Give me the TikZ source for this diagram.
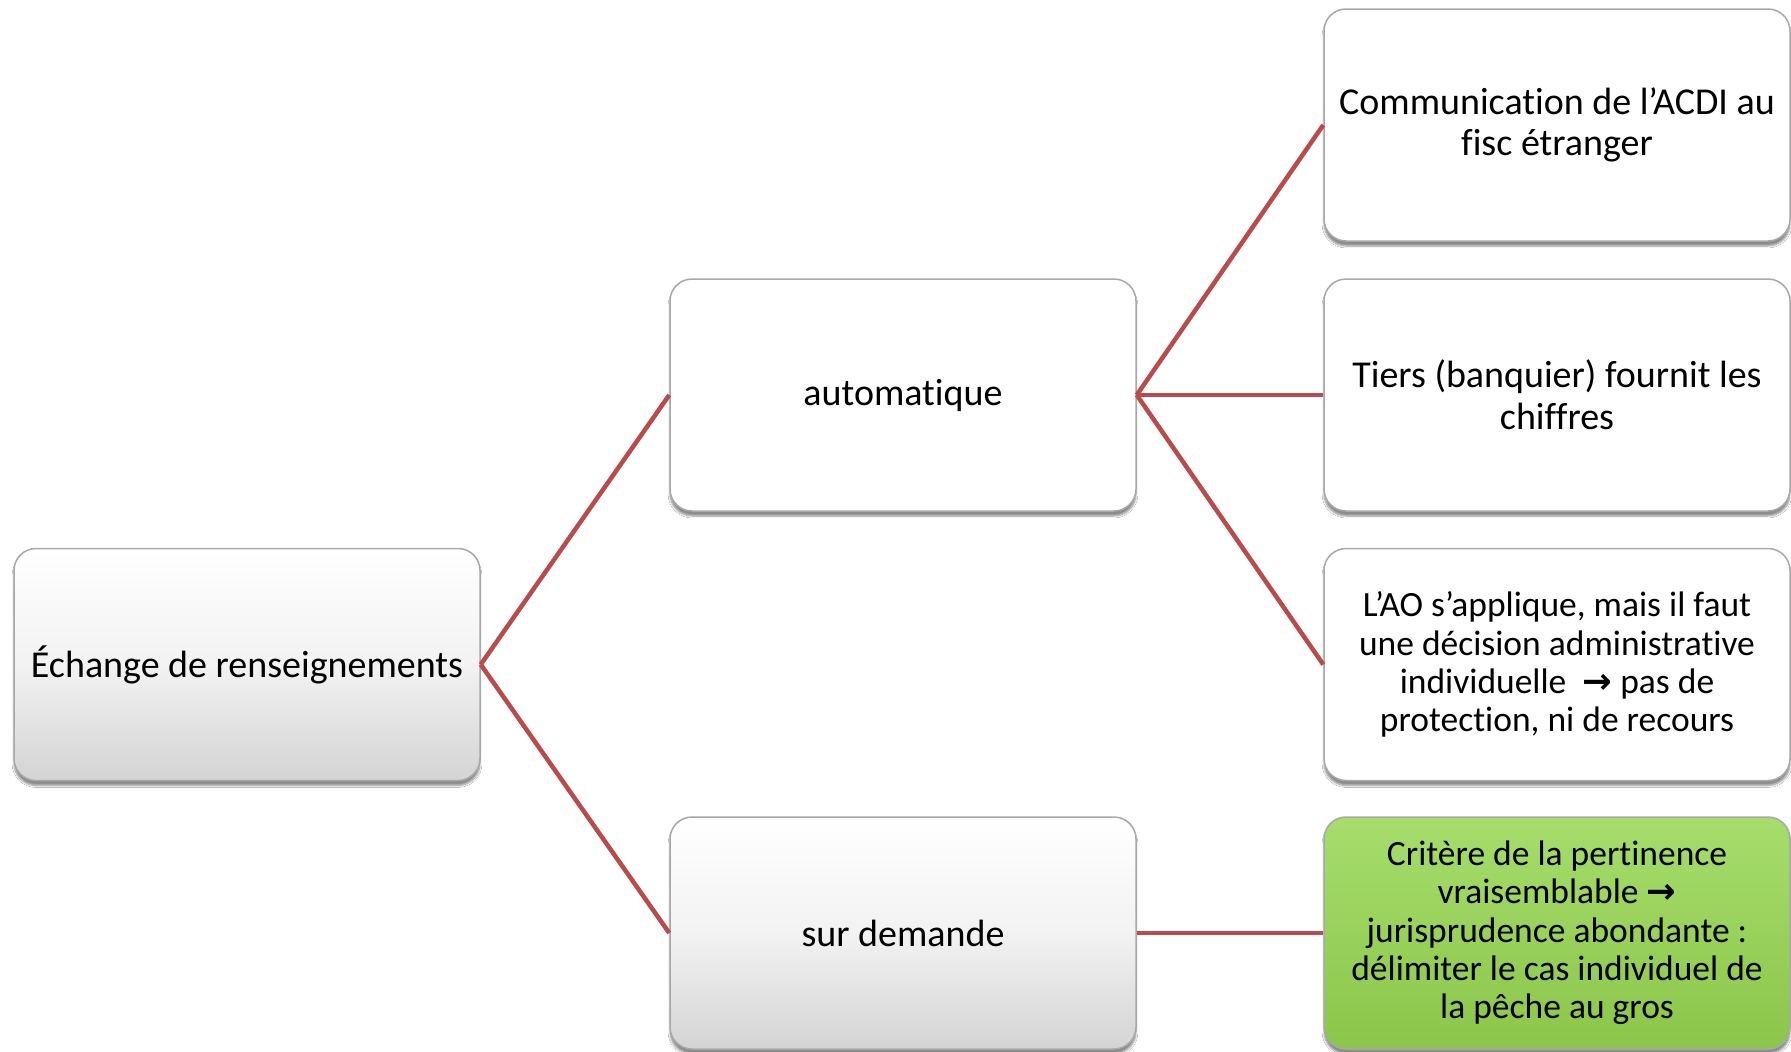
\documentclass[tikz,border=0pt]{standalone}
\usepackage{fontspec}
\setmainfont[RawFeature={-liga;-dlig;-clig}]{Carlito}
\newfontfamily\arrowfont{DejaVu Sans}
\usetikzlibrary{shadows.blur}
\definecolor{linkred}{HTML}{B84C4C}
\definecolor{boxedge}{HTML}{A8A8A8}
\definecolor{greentop}{HTML}{A6DD6C}
\definecolor{greenbot}{HTML}{8BC64A}
\newcommand{\arr}{{\arrowfont\bfseries →}}
\tikzset{
  card/.style={draw=boxedge, line width=1.5pt, rounded corners=22pt,
    minimum width=466pt, minimum height=232pt, align=center,
    inner sep=0pt, blur shadow={shadow xshift=0pt, shadow yshift=-5pt, shadow blur steps=6, shadow opacity=45}},
  whitecard/.style={card, fill=white},
  greycard/.style={card, top color=white, bottom color=black!17, middle color=white!95!black},
  greencard/.style={card, top color=greentop, bottom color=greenbot},
  bigtext/.style={font=\fontsize{38}{41.7}\selectfont},
  midtext/.style={font=\fontsize{35.5}{38.3}\selectfont},
  link/.style={draw=linkred, line width=4.5pt}
}
\begin{document}
\begin{tikzpicture}[x=1pt,y=-1pt]
\useasboundingbox (0,0) rectangle (1791,1052);
\fill[white] (0,0) rectangle (1791,1052);
\node[greycard, bigtext] (root) at (247,664.5) {Échange de renseignements};
\node[whitecard, bigtext] (auto) at (903,395) {automatique};
\node[greycard, bigtext] (sur) at (903,933) {sur demande};
\node[whitecard, bigtext] (r1) at (1557,125) {Communication de l’ACDI au\\fisc étranger};
\node[whitecard, bigtext] (r2) at (1557,395) {Tiers (banquier) fournit les\\chiffres};
\node[whitecard, midtext] (r3) at (1557,664.5) {L’AO s’applique, mais il faut\\une décision administrative\\individuelle \ \arr\ pas de\\protection, ni de recours};
\node[greencard, midtext] (r4) at (1557,933) {Critère de la pertinence\\vraisemblable \arr\\jurisprudence abondante :\\délimiter le cas individuel de\\la pêche au gros};
\draw[link] (root.east) -- (auto.west);
\draw[link] (root.east) -- (sur.west);
\draw[link] (auto.east) -- (r1.west);
\draw[link] (auto.east) -- (r2.west);
\draw[link] (auto.east) -- (r3.west);
\draw[link] (sur.east) -- (r4.west);
\end{tikzpicture}
\end{document}
